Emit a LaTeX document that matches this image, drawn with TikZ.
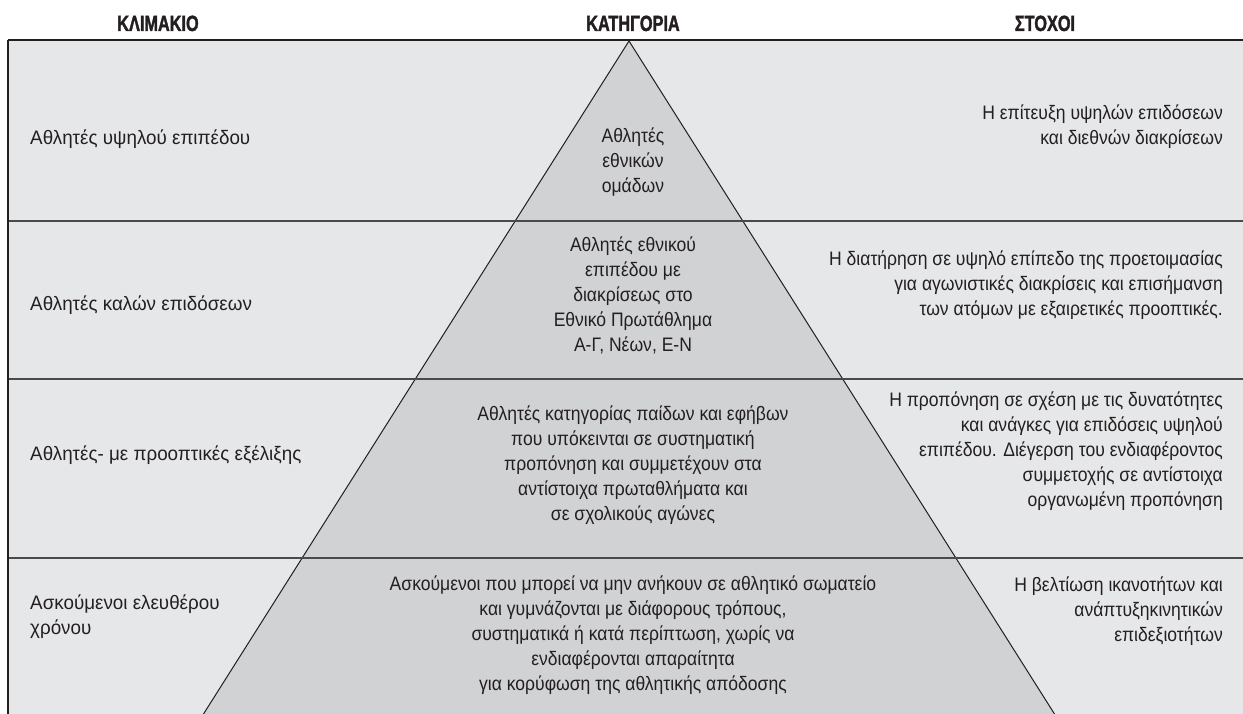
\documentclass[tikz,border=0pt]{standalone}
\usepackage{fontspec}
\setmainfont{Liberation Sans}[FakeStretch=0.9]
\newfontfamily\leftfont{Liberation Sans}[FakeStretch=0.965]
\newfontfamily\hdfont{Liberation Sans}[FakeStretch=0.74, BoldFeatures={FakeBold=1.6}]
\definecolor{bgc}{HTML}{E6E7E8}
\definecolor{trc}{HTML}{D1D2D4}
\definecolor{lnc}{HTML}{4A4A4A}
\definecolor{txc}{HTML}{231F20}
\begin{document}
\begin{tikzpicture}[x=1pt,y=-1pt,
  hdr/.style={font=\hdfont\bfseries\fontsize{22}{26}\selectfont, text=txc, inner sep=0pt, anchor=base},
  txt/.style={font=\fontsize{19.5}{25}\selectfont, inner sep=0pt, text=txc},
  lt/.style={txt, font=\leftfont\fontsize{19.5}{25}\selectfont, anchor=west, align=left},
  ct/.style={txt, align=center},
  rt/.style={txt, anchor=east, align=right},
  rule/.style={draw=lnc, line width=1.6pt},
  toprule/.style={draw=txc, line width=1.6pt},
  edge/.style={draw=txc, line width=1pt}]
\useasboundingbox (0,0) rectangle (1243,714);
% frame and background
\coordinate (tl) at (8,40);
\coordinate (tr) at (1243,40);
\coordinate (bL) at (8,714);
\coordinate (bR) at (1243,714);
\fill[bgc] (tl) rectangle (bR);
% pyramid
\coordinate (apex) at (629,41);
\coordinate (pl) at (203.5,714);
\coordinate (pr) at (1054.5,714);
\fill[trc] (apex) -- (pl) -- (pr) -- cycle;
\draw[edge] (pl) -- (apex) -- (pr);
% row rules
\coordinate (r1l) at (8,221);  \coordinate (r1r) at (1243,221);
\coordinate (r2l) at (8,379);  \coordinate (r2r) at (1243,379);
\coordinate (r3l) at (8,558);  \coordinate (r3r) at (1243,558);
\draw[rule] (r1l) -- (r1r);
\draw[rule] (r2l) -- (r2r);
\draw[rule] (r3l) -- (r3r);
\draw[toprule] (tl) -- (tr);
\draw[toprule] (tl) -- (bL);
% headers
\node[hdr] (h1) at (158,31) {ΚΛΙΜΑΚΙΟ};
\node[hdr] (h2) at (633,31) {ΚΑΤΗΓΟΡΙΑ};
\node[hdr] (h3) at (1045,31) {ΣΤΟΧΟΙ};
% left column
\node[lt] (l1) at (30,139) {Αθλητές υψηλού επιπέδου};
\node[lt] (l2) at (30,305) {Αθλητές καλών επιδόσεων};
\node[lt] (l3) at (30,455) {Αθλητές- με προοπτικές εξέλιξης};
\node[lt] (l4) at (30,617) {Ασκούμενοι ελευθέρου\\χρόνου};
% centre column
\node[ct] (c1) at (633,162) {Αθλητές\\εθνικών\\ομάδων};
\node[ct] (c2) at (633,295) {Αθλητές εθνικού\\επιπέδου με\\διακρίσεως στο\\Εθνικό Πρωτάθλημα\\Α-Γ, Νέων, Ε-Ν};
\node[ct] (c3) at (633,465) {Αθλητές κατηγορίας παίδων και εφήβων\\που υπόκεινται σε συστηματική\\προπόνηση και συμμετέχουν στα\\αντίστοιχα πρωταθλήματα και\\σε σχολικούς αγώνες};
\node[ct] (c4) at (633,635) {Ασκούμενοι που μπορεί να μην ανήκουν σε αθλητικό σωματείο\\και γυμνάζονται με διάφορους τρόπους,\\συστηματικά ή κατά περίπτωση, χωρίς να\\ενδιαφέρονται απαραίτητα\\για κορύφωση της αθλητικής απόδοσης};
% right column
\node[rt] (s1) at (1223,127) {Η επίτευξη υψηλών επιδόσεων\\και διεθνών διακρίσεων};
\node[rt] (s2) at (1223,285) {Η διατήρηση σε υψηλό επίπεδο της προετοιμασίας\\για αγωνιστικές διακρίσεις και επισήμανση\\των ατόμων με εξαιρετικές προοπτικές.};
\node[rt] (s3) at (1223,451) {Η προπόνηση σε σχέση με τις δυνατότητες\\και ανάγκες για επιδόσεις υψηλού\\επιπέδου. Διέγερση του ενδιαφέροντος\\συμμετοχής σε αντίστοιχα\\οργανωμένη προπόνηση};
\node[rt] (s4) at (1223,611) {Η βελτίωση ικανοτήτων και\\ανάπτυξηκινητικών\\επιδεξιοτήτων};
\end{tikzpicture}
\end{document}
